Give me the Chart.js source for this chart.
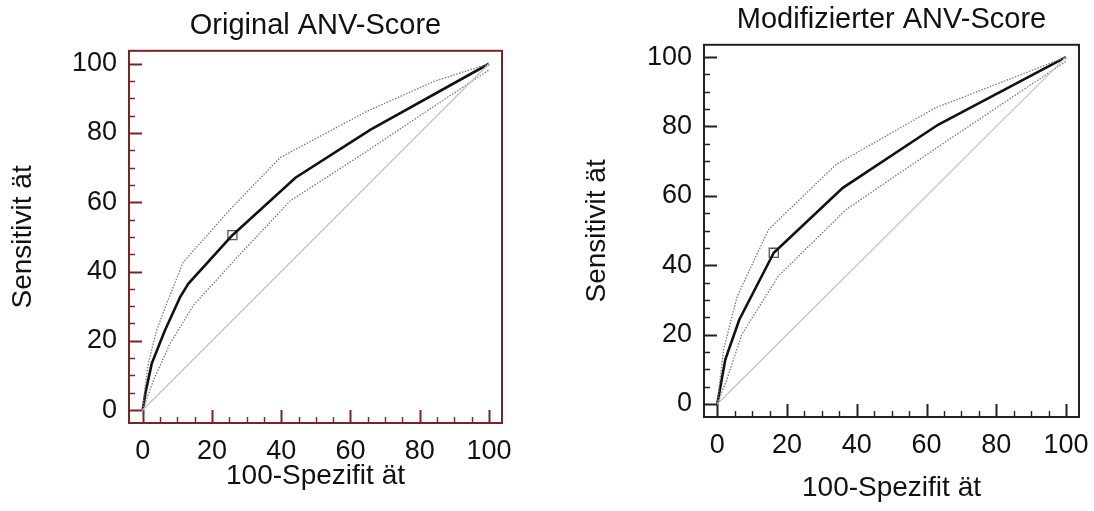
<!DOCTYPE html>
<html>
<head>
<meta charset="utf-8">
<script src="https://cdn.jsdelivr.net/npm/chart.js@4.4.1/dist/chart.umd.min.js"></script>
<style>
html, body { margin: 0; padding: 0; background: #fff; }
.panel { position: absolute; top: 0; width: 547px; height: 511px; }
#left { left: 0; }
#right { left: 547px; }
</style>
</head>
<body>
<div class="panel" id="left"><canvas id="c1"></canvas></div>
<div class="panel" id="right"><canvas id="c2"></canvas></div>
<script>
const TICKS = [0, 20, 40, 60, 80, 100]
const DIAG_X = [0, 100]
const DIAG_Y = [0, 100]

// Original ANV-Score
const origX = [0, 0.8, 2.6, 6.4, 10.8, 13.2, 25.9, 44.1, 65.8, 100]
const origY = [0, 5.0, 13.4, 23.0, 32.6, 36.5, 50.5, 67.1, 81.0, 100]
const origUpperX = [0, 0.6, 1.6, 4.0, 6.9, 11.7, 25.3, 39.7, 64.8, 84.1, 100]
const origUpperY = [0, 6.0, 13.4, 23.0, 30.7, 42.7, 58.0, 72.9, 86.3, 94.9, 100]
const origLowerX = [0, 3.1, 7.9, 14.6, 28.2, 42.6, 64.8, 84.1, 100]
const origLowerY = [0, 8.6, 19.2, 30.2, 45.1, 60.4, 74.8, 87.7, 98.2]
const origCutX = [25.9]
const origCutY = [50.5]

// Modifizierter ANV-Score
const modX = [0, 2.3, 6.3, 16.2, 36.0, 63.3, 100]
const modY = [0, 12.8, 24.3, 43.6, 62.3, 80.5, 100]
const modUpperX = [0, 1.8, 5.7, 14.7, 34.0, 62.4, 100]
const modUpperY = [0, 15.7, 31.0, 50.3, 69.0, 85.3, 100]
const modLowerX = [0, 2.7, 7.0, 17.6, 37.0, 64.3, 100]
const modLowerY = [0, 6.9, 20.0, 37.0, 56.1, 74.8, 98.8]
const modCutX = [16.2]
const modCutY = [43.6]

const FONT = '"Liberation Sans", Arial, sans-serif'

function pts(xs, ys) {
    return xs.map((x, i) => ({ x, y: ys[i] }))
}

const framePlugin = {
    id: 'frame',
    afterLayout(chart) {
        // centre the title over the plot frame, not the whole canvas
        const t = chart.titleBlock
        if (t) {
            t.left = chart.chartArea.left
            t.right = chart.chartArea.right
        }
    },
    beforeDatasetsDraw(chart, args, opts) {
        const { ctx, chartArea: a, scales: { x, y } } = chart
        ctx.save()
        ctx.strokeStyle = opts.color
        ctx.lineWidth = 2
        ctx.strokeRect(a.left, a.top, a.right - a.left, a.bottom - a.top)
        for (let v = 0; v <= 100; v += 5) {
            const major = v % 20 === 0
            const len = major ? 13 : 6
            const px = Math.round(x.getPixelForValue(v)) + 0.5
            const py = Math.round(y.getPixelForValue(v)) + 0.5
            ctx.lineWidth = major ? 2 : 1.4
            ctx.beginPath()
            ctx.moveTo(a.left, py)
            ctx.lineTo(a.left + len, py)
            ctx.moveTo(px, a.bottom)
            ctx.lineTo(px, a.bottom - len)
            ctx.stroke()
        }
        ctx.restore()
    }
}

function createRocChart(canvas, series, opt) {
    return new Chart(canvas, {
        type: 'scatter',
        data: {
            datasets: [
                {
                    data: pts(DIAG_X, DIAG_Y),
                    showLine: true,
                    borderColor: '#c4c4c4',
                    borderWidth: 1.3,
                    pointRadius: 0
                },
                {
                    data: pts(series.upperX, series.upperY),
                    showLine: true,
                    borderColor: '#7a7a7a',
                    borderWidth: 1.3,
                    borderDash: [1.5, 1.5],
                    pointRadius: 0
                },
                {
                    data: pts(series.lowerX, series.lowerY),
                    showLine: true,
                    borderColor: '#7a7a7a',
                    borderWidth: 1.3,
                    borderDash: [1.5, 1.5],
                    pointRadius: 0
                },
                {
                    data: pts(series.x, series.y),
                    showLine: true,
                    borderColor: '#111',
                    borderWidth: 2.6,
                    pointRadius: 0
                },
                {
                    data: pts(series.cutX, series.cutY),
                    pointStyle: 'rect',
                    pointRadius: 6.4,
                    pointBackgroundColor: '#fff',
                    pointBorderColor: '#555',
                    pointBorderWidth: 1.3
                }
            ]
        },
        options: {
            animation: false,
            responsive: true,
            maintainAspectRatio: false,
            layout: { padding: opt.padding },
            plugins: {
                legend: { display: false },
                tooltip: { enabled: false },
                frame: { color: opt.frameColor },
                title: {
                    display: true,
                    text: opt.title,
                    color: '#111',
                    font: { family: FONT, size: 29, weight: 'normal' },
                    padding: opt.titlePadding
                }
            },
            scales: {
                x: {
                    type: 'linear',
                    min: opt.xRange[0],
                    max: opt.xRange[1],
                    afterBuildTicks: (s) => { s.ticks = TICKS.map(v => ({ value: v })) },
                    afterFit: (s) => { s.height = opt.xAxisHeight },
                    grid: { display: false, drawTicks: true, tickLength: 12 },
                    border: { display: false },
                    ticks: {
                        color: '#111',
                        padding: 0,
                        maxRotation: 0,
                        font: { family: FONT, size: 27 }
                    },
                    title: {
                        display: true,
                        text: '100-Spezifit ät',
                        color: '#111',
                        font: { family: FONT, size: 28 },
                        padding: { top: 0, bottom: opt.xTitlePad }
                    }
                },
                y: {
                    type: 'linear',
                    min: opt.yRange[0],
                    max: opt.yRange[1],
                    afterBuildTicks: (s) => { s.ticks = TICKS.map(v => ({ value: v })) },
                    afterFit: (s) => { s.width = opt.yAxisWidth },
                    grid: { display: false, drawTicks: false },
                    border: { display: false },
                    ticks: {
                        color: '#111',
                        padding: 12,
                        font: { family: FONT, size: 27 }
                    },
                    title: {
                        display: true,
                        text: 'Sensitivit ät',
                        color: '#111',
                        font: { family: FONT, size: 28 },
                        padding: { top: opt.yTitlePad, bottom: 0 }
                    }
                }
            }
        },
        plugins: [framePlugin]
    })
}

createRocChart(
    document.getElementById('c1'),
    {
        x: origX, y: origY,
        upperX: origUpperX, upperY: origUpperY,
        lowerX: origLowerX, lowerY: origLowerY,
        cutX: origCutX, cutY: origCutY
    },
    {
        title: 'Original ANV-Score',
        frameColor: '#7b2428',
        padding: { left: 0, top: 0, right: 45, bottom: 0 },
        titlePadding: { top: 9, bottom: 7 },
        xRange: [-3.96, 103.75],
        yRange: [-3.74, 103.74],
        xAxisHeight: 88,
        yAxisWidth: 129,
        xTitlePad: 18,
        yTitlePad: 6
    }
)

createRocChart(
    document.getElementById('c2'),
    {
        x: modX, y: modY,
        upperX: modUpperX, upperY: modUpperY,
        lowerX: modLowerX, lowerY: modLowerY,
        cutX: modCutX, cutY: modCutY
    },
    {
        title: 'Modifizierter ANV-Score',
        frameColor: '#222',
        padding: { left: 0, top: 0, right: 15, bottom: 0 },
        titlePadding: { top: 3, bottom: 7 },
        xRange: [-3.81, 103.73],
        yRange: [-3.75, 103.55],
        xAxisHeight: 94,
        yAxisWidth: 157,
        xTitlePad: 6,
        yTitlePad: 33
    }
)
</script>
</body>
</html>
